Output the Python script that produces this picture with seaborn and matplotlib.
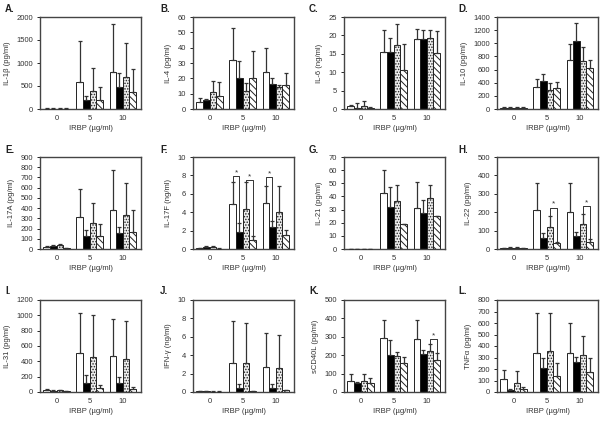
import numpy as np
import pandas as pd
import matplotlib
matplotlib.use("Agg")
import matplotlib.pyplot as plt
import seaborn as sns

sns.set_style("ticks")
plt.rcParams["font.family"] = ["Liberation Sans", "DejaVu Sans"]
plt.rcParams["hatch.linewidth"] = 0.7
plt.rcParams["hatch.color"] = "#222222"

doses = ["0", "5", "10"]
groups = ["open", "black", "dotted", "hatched"]

letters = ["A.", "B.", "C.", "D.", "E.", "F.", "G.", "H.", "I.", "J.", "K.", "L."]
ylabels = ["IL-1β (pg/ml)", "IL-4 (pg/ml)", "IL-6 (ng/ml)", "IL-10 (pg/ml)",
           "IL-17A (pg/ml)", "IL-17F (ng/ml)", "IL-21 (pg/ml)", "IL-22 (pg/ml)",
           "IL-31 (pg/ml)", "IFN-γ (ng/ml)", "sCD40L (pg/ml)", "TNFα (pg/ml)"]
ymax = [2000, 60, 25, 1400, 900, 10, 70, 500, 1200, 10, 500, 800]
ystep = [500, 10, 5, 200, 100, 2, 10, 100, 200, 2, 100, 100]

# means[panel][group][dose]
means = [
    [[10, 590, 800], [10, 200, 480], [10, 400, 700], [10, 200, 380]],
    [[4.5, 32, 24], [6, 20, 16], [11, 11.6, 14.5], [8.4, 20, 15.4]],
    [[0.75, 15.6, 19], [0.3, 15.6, 19], [0.9, 17.4, 19.3], [0.4, 10.5, 15.1]],
    [[20, 330, 750], [20, 430, 1040], [20, 290, 730], [20, 320, 620]],
    [[15, 315, 385], [25, 130, 155], [35, 250, 330], [10, 130, 170]],
    [[0.1, 4.85, 5.05], [0.2, 1.9, 2.4], [0.25, 4.3, 4.0], [0.05, 1.0, 1.57]],
    [[0, 42.8, 31.5], [0, 32, 27.6], [0, 36.7, 38.6], [0, 19.2, 25]],
    [[5, 210, 200], [8, 60, 68], [8, 120, 138], [5, 30, 38]],
    [[25, 510, 470], [15, 120, 120], [20, 460, 430], [10, 55, 45]],
    [[0.1, 3.2, 2.7], [0.08, 0.48, 0.48], [0.05, 3.1, 2.64], [0.05, 0.12, 0.18]],
    [[60, 295, 290], [49, 200, 205], [58, 195, 225], [49, 160, 175]],
    [[110, 340, 340], [20, 205, 265], [80, 360, 325], [25, 140, 175]],
]
sds = [
    [[10, 890, 1050], [5, 80, 300], [5, 500, 740], [2, 270, 490]],
    [[2.5, 21, 16], [0.5, 11, 4.4], [7, 5.4, 1], [9.2, 17.6, 7.9]],
    [[0.3, 5.8, 2.8], [1.2, 3.7, 2.4], [1.2, 5.7, 2.1], [0.1, 7.1, 6.0]],
    [[5, 130, 240], [5, 110, 270], [5, 100, 220], [5, 90, 120]],
    [[10, 275, 385], [10, 60, 60], [10, 200, 320], [3, 115, 210]],
    [[0.05, 2.45, 1.85], [0.1, 0.9, 0.6], [0.1, 3.0, 2.9], [0.02, 0.4, 0.5]],
    [[0, 17.6, 19.1], [0, 15.2, 9.7], [0, 12.3, 9.9], [0, 0, 0]],
    [[2, 150, 160], [3, 25, 27], [3, 60, 52], [2, 7, 14]],
    [[15, 520, 480], [5, 100, 80], [10, 540, 495], [3, 30, 20]],
    [[0.05, 4.5, 3.7], [0.02, 0.37, 0.37], [0.02, 4.4, 3.56], [0.02, 0.03, 0.05]],
    [[40, 95, 100], [5, 85, 22], [42, 20, 35], [29, 30, 35]],
    [[80, 350, 260], [8, 90, 40], [105, 330, 165], [15, 110, 125]],
]
# (panel, dose index, bar a, bar b, bracket height)
brackets = [(5, 1, 0, 1, 7.9), (5, 1, 2, 3, 7.5), (5, 2, 0, 1, 7.8),
            (7, 1, 2, 3, 225), (7, 2, 2, 3, 234), (10, 2, 2, 3, 286)]

face = {"open": "white", "black": "black", "dotted": "#ededed", "hatched": "white"}
hatch = {"open": None, "black": None, "dotted": "......", "hatched": "\\\\\\\\\\"}

col_left = [40, 193, 344, 497]
row_top = [17, 157, 300]
letter_x = [5, 160, 309, 458]
letter_y = [9, 150, 291]
W, H = 600, 422
txt = "#333333"

fig = plt.figure(figsize=(6, 4.22), dpi=100)

for p in range(12):
    r, c = divmod(p, 4)
    ax = fig.add_axes([col_left[c] / W, 1 - (row_top[r] + 92) / H, 101 / W, 92 / H])
    rows = []
    for g, name in enumerate(groups):
        for d, dose in enumerate(doses):
            rows.append({"dose": dose, "group": name, "value": means[p][g][d]})
    df = pd.DataFrame(rows)
    sns.barplot(data=df, x="dose", y="value", hue="group", order=doses, hue_order=groups,
                palette=face, edgecolor="#222222", linewidth=0.7, width=0.8,
                legend=False, errorbar=None, ax=ax)
    tops = {}
    for g, name in enumerate(groups):
        cont = ax.containers[g]
        xs = []
        for d, bar in enumerate(cont):
            if hatch[name]:
                bar.set_hatch(hatch[name])
            xc = bar.get_x() + bar.get_width() / 2
            xs.append(xc)
            tops[(g, d)] = (xc, means[p][g][d] + sds[p][g][d])
        ax.errorbar(xs, means[p][g], yerr=[np.zeros(3), sds[p][g]], fmt="none",
                    ecolor="#333333", elinewidth=0.9, capsize=1.2, capthick=0.9, zorder=3)
    for bp, bd, ba, bb, by in brackets:
        if bp != p:
            continue
        xa, ya = tops[(ba, bd)]
        xb, yb = tops[(bb, bd)]
        ax.plot([xa, xa, xb, xb], [ya, by, by, yb], color="#333333", lw=0.7, zorder=4)
        ax.text((xa + xb) / 2, by, "*", ha="center", va="bottom", fontsize=6, color=txt)

    ax.set_ylim(0, ymax[p])
    ax.set_yticks(np.arange(0, ymax[p] + ystep[p] / 2, ystep[p]))
    ax.set_xlim(-0.5, 2.55)
    ax.set_xlabel("IRBP (µg/ml)", fontsize=5.5, color=txt, labelpad=2.5)
    ax.set_ylabel(ylabels[p], fontsize=5.5, color=txt, labelpad=4)
    ax.tick_params(axis="y", labelsize=5.5, labelcolor=txt, length=2, width=0.7, pad=3)
    ax.tick_params(axis="x", labelsize=5.5, labelcolor=txt, length=0, pad=4)
    for s in ax.spines.values():
        s.set_linewidth(1.0)
        s.set_color("#444444")
    fig.text(letter_x[c] / W, 1 - letter_y[r] / H, letters[p], fontsize=7,
             fontweight="bold", color="#222222", va="center", ha="left")

fig.savefig("out.png", dpi=100, facecolor="white")
